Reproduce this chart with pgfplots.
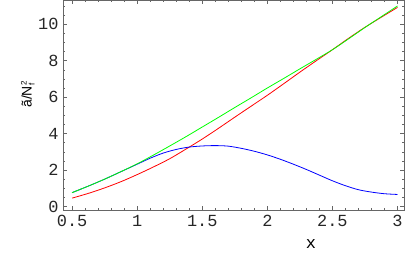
\documentclass[border=0pt]{standalone}
\usepackage{fontspec}
\setmainfont{Liberation Sans}
\setmonofont{Liberation Mono}
\newfontfamily\lsans{Liberation Sans}
\usepackage{pgfplots}
\pgfplotsset{compat=1.18}
\begin{document}
\begin{tikzpicture}
\begin{axis}[
  name=ax,
  scale only axis,
  width=341bp, height=210bp,
  xmin=0.43, xmax=3.05,
  ymin=-0.22, ymax=11.3,
  xtick={0.5,1,1.5,2,2.5,3},
  xticklabels={0.5,1,1.5,2,2.5,3},
  ytick={0,2,4,6,8,10},
  minor xtick={0.6,0.7,0.8,0.9,1.1,1.2,1.3,1.4,1.6,1.7,1.8,1.9,2.1,2.2,2.3,2.4,2.6,2.7,2.8,2.9,3.0},
  minor ytick={0.5,1,1.5,2.5,3,3.5,4.5,5,5.5,6.5,7,7.5,8.5,9,9.5,10.5,11},
  tick align=inside,
  major tick length=4bp,
  minor tick length=2bp,
  tick style={color=gray!80!black, line width=0.5bp},
  axis line style={color=gray!80!black, line width=0.6bp},
  /pgf/number format/assume math mode=true,
  ticklabel style={font=\fontsize{17}{19}\selectfont\ttfamily, color=black!85},
  xticklabel style={yshift=-1bp},
  yticklabel style={xshift=-1bp},
  xlabel={x},
  xlabel style={font=\fontsize{17}{19}\selectfont\ttfamily, at={(rel axis cs:0.727,0)}, anchor=north, yshift=-26bp},
  ylabel={\~a/N\rlap{\raisebox{-3pt}{\fontsize{8}{9}\selectfont f}}\raisebox{5pt}{\fontsize{8}{9}\selectfont 2}},
  every axis y label/.style={font=\fontsize{14}{16}\selectfont\lsans, at={(rel axis cs:-0.103,0.552)}, rotate=90, anchor=center, inner sep=0pt},
  every axis plot/.append style={line width=0.8bp, smooth, no markers},
]
\addplot[color=red] coordinates {
(0.5,0.46) (0.625,0.72) (0.75,1.02) (0.875,1.36) (1.0,1.75) (1.125,2.17) (1.25,2.62) (1.375,3.15)
(1.5,3.7) (1.625,4.29) (1.75,4.9) (1.875,5.5) (2.0,6.1) (2.125,6.73) (2.25,7.37) (2.375,7.99)
(2.5,8.6) (2.625,9.23) (2.75,9.83) (2.875,10.38) (3.0,10.92)};
\addplot[color=blue] coordinates {
(0.5,0.76) (0.625,1.12) (0.75,1.5) (0.875,1.91) (1.0,2.32) (1.1,2.65) (1.2,2.93) (1.3,3.13)
(1.4,3.26) (1.5,3.32) (1.6,3.34) (1.7,3.31) (1.8,3.19) (1.9,3.03) (2.0,2.83) (2.1,2.59)
(2.2,2.32) (2.3,2.03) (2.4,1.72) (2.5,1.41) (2.6,1.14) (2.7,0.92) (2.8,0.79) (2.9,0.70) (3.0,0.66)};
\addplot[color=green] coordinates {
(0.5,0.76) (0.625,1.12) (0.75,1.5) (0.875,1.91) (1.0,2.34) (1.125,2.82) (1.25,3.32) (1.375,3.83)
(1.5,4.36) (1.625,4.89) (1.75,5.43) (1.875,5.96) (2.0,6.5) (2.125,7.02) (2.25,7.55) (2.375,8.07)
(2.5,8.6) (2.625,9.2) (2.75,9.82) (2.875,10.41) (3.0,11.0)};
\end{axis}
\pgfresetboundingbox
\path[use as bounding box] ([shift={(-63bp,-47bp)}]ax.south west) rectangle ([shift={(12bp,0.5bp)}]ax.north east);
\end{tikzpicture}
\end{document}
